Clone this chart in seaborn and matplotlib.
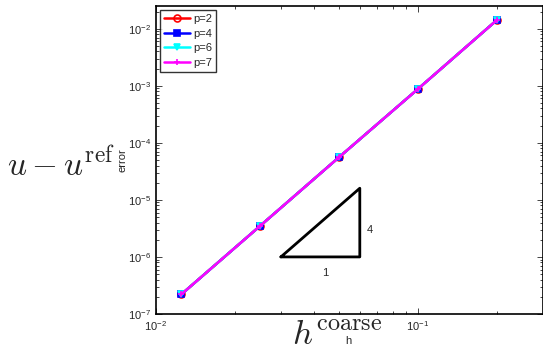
import matplotlib
matplotlib.use("Agg")
import matplotlib.pyplot as plt
import seaborn as sns
import pandas as pd
import numpy as np
from matplotlib.ticker import LogLocator, NullFormatter

sns.set_style("ticks")
plt.rcParams['font.family'] = ['Liberation Sans', 'DejaVu Sans']
plt.rcParams['mathtext.fontset'] = 'custom'
plt.rcParams['mathtext.rm'] = 'Liberation Sans'
plt.rcParams['mathtext.it'] = 'Liberation Sans:italic'
plt.rcParams['mathtext.bf'] = 'Liberation Sans:bold'

h = [0.0125, 0.025, 0.05, 0.1, 0.2]
err_p2 = [2.2e-7, 3.5e-6, 5.6e-5, 8.8e-4, 1.42e-2]
err_p4 = [2.2e-7, 3.5e-6, 5.6e-5, 8.8e-4, 1.42e-2]
err_p6 = [2.2e-7, 3.5e-6, 5.6e-5, 8.8e-4, 1.42e-2]
err_p7 = [2.2e-7, 3.5e-6, 5.6e-5, 8.8e-4, 1.42e-2]
labels = ["p=2", "p=4", "p=6", "p=7"]
colors = ["#ff0000", "#0000ff", "#00ffff", "#ff00ff"]
markers = ["o", "s", "v", "+"]
tri_x = [0.03, 0.06]
tri_y = [1e-6, 1.6e-5]

frames = []
for lab, vals in zip(labels, [err_p2, err_p4, err_p6, err_p7]):
    frames.append(pd.DataFrame({"h": h, "error": vals, "p": lab}))
df = pd.concat(frames, ignore_index=True)

fig = plt.figure(figsize=(5.43, 3.5), dpi=100)
ax = fig.add_axes([0.287, 0.103, 0.713, 0.880])

for lab, col, mk in zip(labels, colors, markers):
    sub = df[df.p == lab]
    kw = dict(color=col, marker=mk, markersize=5, linewidth=1.8, label=lab,
              markeredgecolor=col, markeredgewidth=1.2)
    if mk == "o":
        kw["markerfacecolor"] = "none"
    sns.lineplot(data=sub, x="h", y="error", ax=ax, estimator=None, sort=False, **kw)

ax.set_xscale("log")
ax.set_yscale("log")
ax.set_xlim(0.01, 0.3)
ax.set_ylim(1e-7, 10 ** -1.6)

# slope triangle
ax.plot([tri_x[0], tri_x[1], tri_x[1], tri_x[0]],
        [tri_y[0], tri_y[0], tri_y[1], tri_y[0]], color="black", linewidth=2)
ax.text(0.0443, tri_y[0] / 1.9, "1", ha="center", va="center", fontsize=8)
ax.text(tri_x[1] * 1.09, 3e-6, "4", ha="center", va="center", fontsize=8)

ax.set_xlabel("")
ax.set_ylabel("")
ax.tick_params(which="both", direction="in", top=True, right=True, labelsize=8, width=0.6)
ax.tick_params(which="major", length=4)
ax.tick_params(which="minor", length=2)
ax.yaxis.set_minor_locator(LogLocator(base=10, subs=np.arange(2, 10)))
ax.yaxis.set_minor_formatter(NullFormatter())
ax.xaxis.set_minor_formatter(NullFormatter())
for s in ax.spines.values():
    s.set_linewidth(1.2)
    s.set_color("black")

leg = ax.legend(loc="upper left", fontsize=8, frameon=True, fancybox=False,
                handlelength=2.3, borderaxespad=0.4, labelspacing=0.4,
                handletextpad=0.3, borderpad=0.35)
leg.get_frame().set_edgecolor("black")
leg.get_frame().set_linewidth(1.0)

# axis labels
fig.text(123 / 543, 1 - 160 / 350, "error", rotation=90, ha="center", va="center", fontsize=8)
fig.text(7 / 543, 1 - 175 / 350, r"$u - u^{\mathrm{ref}}$", ha="left", va="baseline",
         fontsize=24, math_fontfamily="cm")
fig.text(348 / 543, 1 - 341 / 350, "h", ha="center", va="center", fontsize=8)
fig.text(292 / 543, 1 - 344 / 350, r"$h^{\mathrm{coarse}}$", ha="left", va="baseline",
         fontsize=25, math_fontfamily="cm")

fig.savefig("out.png", dpi=100)
